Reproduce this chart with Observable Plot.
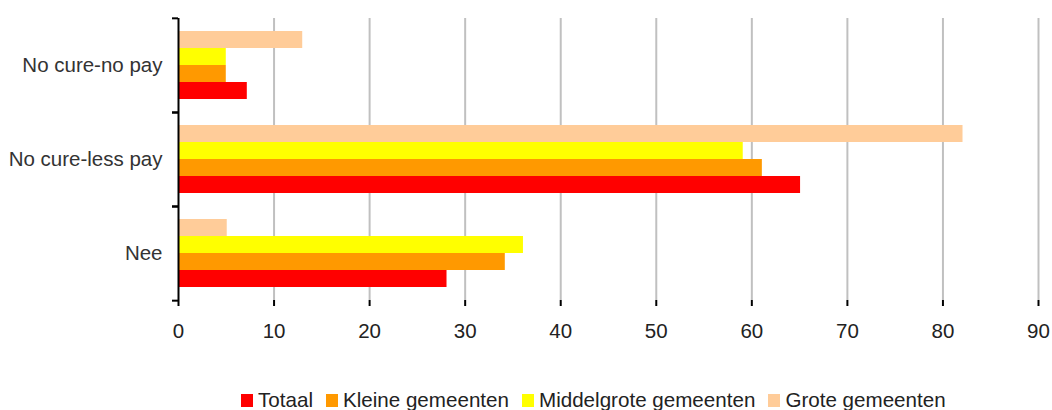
<!DOCTYPE html>
<html>
<head>
<meta charset="utf-8">
<script src="https://cdn.jsdelivr.net/npm/d3@7"></script>
<script src="https://cdn.jsdelivr.net/npm/@observablehq/plot@0.6"></script>
<style>
  html, body { margin: 0; padding: 0; background: #fff; }
  #chart { width: 1052px; height: 410px; position: relative; overflow: hidden; }
  #legend { position: absolute; left: 0; top: 390px; height: 20px; padding-left: 241px;
    font-family: "Liberation Sans", Arial, sans-serif; font-size: 20.6px; line-height: 19px; color: #222; white-space: nowrap; }
  .item { display: inline-block; margin-right: 13px; }
  .sw { display: inline-block; width: 12px; height: 13px; margin-right: 5px; vertical-align: baseline; }
</style>
</head>
<body>
<div id="chart"></div>
<script>
const categories = ["No cure-no pay", "No cure-less pay", "Nee"];
const series = ["Totaal", "Kleine gemeenten", "Middelgrote gemeenten", "Grote gemeenten"];
const colors = ["#ff0000", "#ff9900", "#ffff00", "#ffcc99"];
const totaal = [7.2, 65.1, 28.1];
const kleine = [5.0, 61.1, 34.2];
const middelgrote = [5.0, 59.1, 36.1];
const grote = [13.0, 82.1, 5.1];
const xTicks = [0, 10, 20, 30, 40, 50, 60, 70, 80, 90];

const seriesValues = [totaal, kleine, middelgrote, grote];
const data = categories.flatMap((c, i) => series.map((s, j) => ({category: c, series: s, value: seriesValues[j][i]})));

const W = 1052, H = 360, mT = 17, mB = 60;
const half = (H - mT - mB) / categories.length / 2;

const chart = Plot.plot({
  width: W, height: H,
  marginLeft: 178, marginRight: 14, marginTop: mT, marginBottom: mB,
  style: {fontFamily: '"Liberation Sans", Arial, sans-serif', fontSize: "20.5px", color: "#222", background: "#fff"},
  x: {domain: [0, 90], axis: null},
  y: {domain: series.slice().reverse(), paddingInner: 0, paddingOuter: 0.66, axis: null},
  fy: {domain: categories, padding: 0, axis: null},
  color: {domain: series, range: colors},
  marks: [
    Plot.gridX(xTicks.filter(d => d > 0), {stroke: "#c0c0c0", strokeWidth: 2, strokeOpacity: 1}),
    Plot.barX(data, {x: "value", y: "series", fy: "category", fill: "series"}),
    Plot.ruleX([0], {stroke: "#000", strokeWidth: 2}),
    Plot.axisX({ticks: xTicks, tickSize: 6, tickPadding: 17, stroke: "#000", strokeWidth: 2, line: true, label: null, fill: "#222"}),
    Plot.axisFy({anchor: "left", tickSize: 0, tickPadding: 16, label: null, fill: "#333"}),
    Plot.axisFy({anchor: "left", tickSize: 6, text: null, label: null, dy: -half, stroke: "#000", strokeWidth: 2}),
    Plot.axisFy({anchor: "left", tickSize: 6, text: null, label: null, dy: half, stroke: "#000", strokeWidth: 2})
  ]
});
document.getElementById("chart").appendChild(chart);

const legend = document.createElement("div");
legend.id = "legend";
series.forEach((s, i) => {
  const item = document.createElement("span");
  item.className = "item";
  const sw = document.createElement("span");
  sw.className = "sw";
  sw.style.background = colors[i];
  item.appendChild(sw);
  item.appendChild(document.createTextNode(s));
  legend.appendChild(item);
});
document.getElementById("chart").appendChild(legend);
</script>
</body>
</html>
